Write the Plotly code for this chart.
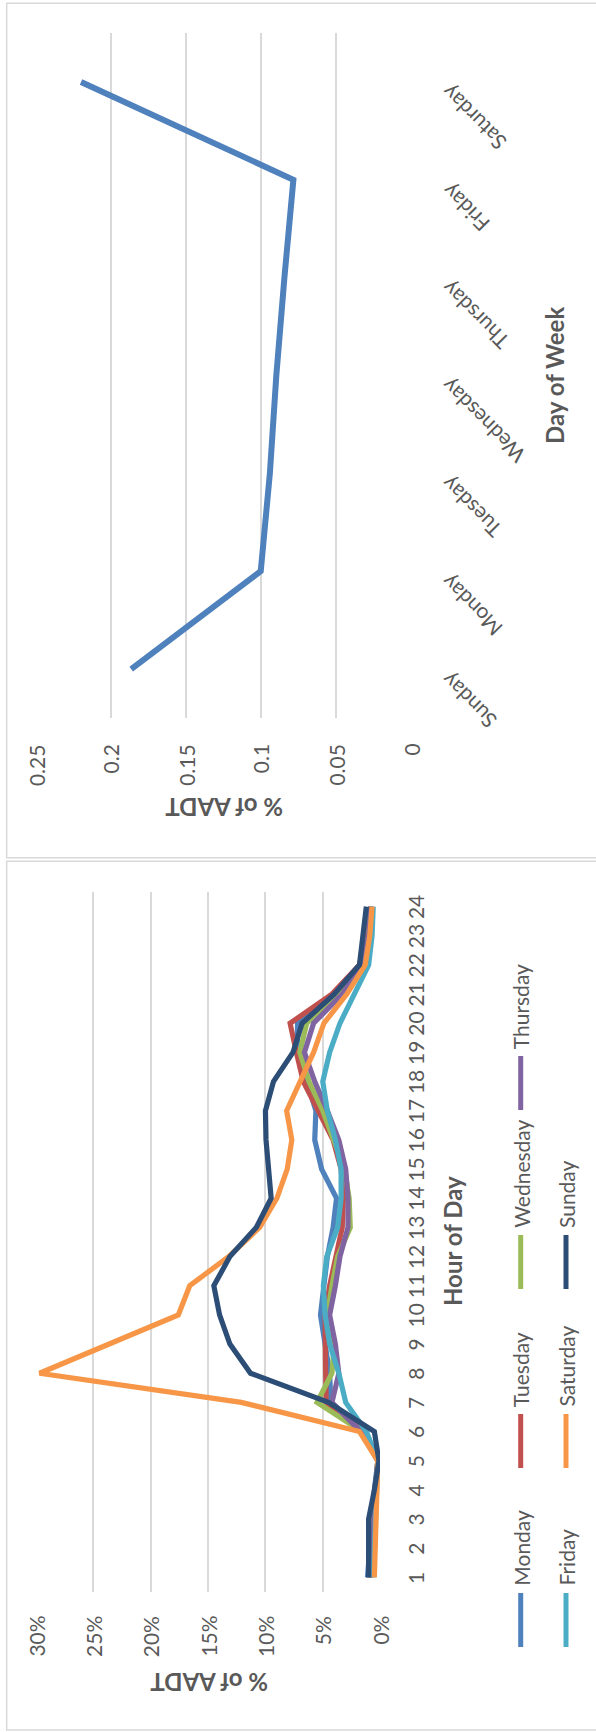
import plotly.graph_objects as go

# ---- data -------------------------------------------------------------
days = ["Sunday", "Monday", "Tuesday", "Wednesday", "Thursday", "Friday", "Saturday"]
day_share = [0.1865, 0.1000, 0.0939, 0.0896, 0.0842, 0.0782, 0.2200]
day_ticks = [0, 0.05, 0.10, 0.15, 0.20, 0.25]
day_ticktext = ["0", "0.05", "0.1", "0.15", "0.2", "0.25"]

hours = list(range(1, 25))
hour_ticks = [0, 5, 10, 15, 20, 25, 30]
hour_ticktext = ["0%", "5%", "10%", "15%", "20%", "25%", "30%"]

monday = [1.1, 0.9, 0.8, 0.5, 0.2, 1.5, 4.3, 4.4, 4.8, 5.2, 4.9, 4.6,
          4.1, 3.8, 5.1, 5.7, 5.6, 6.4, 7.2, 7.2, 4.1, 1.8, 1.0, 0.8]
tuesday = [0.9, 0.7, 0.6, 0.4, 0.2, 1.5, 4.7, 4.75, 4.8, 4.8, 4.4, 3.9,
           3.3, 3.2, 3.4, 4.1, 5.4, 6.7, 7.3, 7.85, 4.2, 1.8, 1.1, 0.8]
wednesday = [0.8, 0.7, 0.6, 0.4, 0.2, 1.6, 5.5, 4.2, 4.0, 4.6, 4.2, 3.7,
             2.6, 2.7, 3.1, 4.1, 5.0, 6.2, 7.0, 6.4, 3.7, 1.6, 1.0, 0.8]
thursday = [0.8, 0.7, 0.6, 0.4, 0.2, 1.7, 4.2, 3.6, 3.9, 4.4, 3.9, 3.5,
            2.8, 2.8, 3.0, 3.6, 4.6, 5.7, 6.6, 5.8, 3.3, 1.6, 1.0, 0.8]
friday = [0.6, 0.5, 0.5, 0.3, 0.2, 1.2, 3.0, 3.6, 4.4, 4.8, 4.95, 4.65,
          3.7, 3.4, 3.4, 3.9, 4.6, 5.0, 4.4, 3.5, 2.2, 1.0, 0.7, 0.6]
saturday = [0.5, 0.45, 0.4, 0.3, 0.2, 1.8, 12.1, 29.7, 23.7, 17.6, 16.6, 13.2,
            10.5, 9.0, 8.1, 7.7, 8.15, 7.0, 5.8, 4.9, 2.9, 1.3, 0.9, 0.7]
sunday = [1.0, 0.95, 1.0, 0.5, 0.1, 0.5, 4.5, 11.3, 13.1, 14.0, 14.5, 13.1,
          10.8, 9.5, 9.7, 9.95, 10.0, 9.3, 7.6, 6.8, 4.0, 1.8, 1.5, 1.2]

series_names = ["Monday", "Tuesday", "Wednesday", "Thursday", "Friday", "Saturday", "Sunday"]
series_values = [monday, tuesday, wednesday, thursday, friday, saturday, sunday]
series_colors = ["#4F81BD", "#C0504D", "#9BBB59", "#8064A2", "#4BACC6", "#F79646", "#2C4D75"]

# ---- page geometry (pixels) --------------------------------------------
W, H = 596, 1732
FONT = "Lato, 'Open Sans', sans-serif"
TXT = "#595959"
GRID = "#D9D9D9"


def fx(px):
    return px / W


def fy(py):
    return 1 - py / H


fig = go.Figure()

# Day-of-week share
fig.add_trace(go.Scatter(
    x=day_share, y=days, mode="lines", xaxis="x", yaxis="y",
    line=dict(color="#4F81BD", width=6), showlegend=False, hoverinfo="skip"))

# Hourly shares by day
for name, vals, col in zip(series_names, series_values, series_colors):
    fig.add_trace(go.Scatter(
        x=vals, y=hours, mode="lines", name=name, xaxis="x2", yaxis="y2",
        line=dict(color=col, width=5.2), showlegend=False, hoverinfo="skip"))

axis_common = dict(showline=False, zeroline=False, ticks="", showticklabels=False)

fig.update_layout(
    template="none",
    width=W, height=H, margin=dict(l=0, r=0, t=0, b=0),
    paper_bgcolor="white", plot_bgcolor="white",
    xaxis=dict(domain=[fx(36.1), fx(410.5)], range=[0.25, 0], anchor="y",
               tickvals=day_ticks, showgrid=True, gridcolor=GRID, gridwidth=1.5,
               **axis_common),
    yaxis=dict(domain=[fy(718), fy(33)], type="category", categoryarray=days,
               range=[-0.5, 6.5], anchor="x", showgrid=False, **axis_common),
    xaxis2=dict(domain=[fx(36.1), fx(380.1)], range=[30, 0], anchor="y2",
                tickvals=hour_ticks, showgrid=True, gridcolor=GRID, gridwidth=1.5,
                **axis_common),
    yaxis2=dict(domain=[fy(1592), fy(892)], range=[0.5, 24.5], anchor="x2",
                tickvals=hours, showgrid=False, **axis_common),
)

annotations = []
tick_font = dict(family=FONT, size=21, color=TXT)
title_font = dict(family=FONT, size=24, color=TXT)

# value labels of the day chart (read upward)
for v, t in zip(day_ticks, day_ticktext):
    annotations.append(dict(x=v, y=fy(742), xref="x", yref="paper", text=t,
                            textangle=-90, xanchor="center", yanchor="top",
                            showarrow=False, font=tick_font))

# day labels, slanted
for d in days:
    annotations.append(dict(
        x=fx(433), y=d, xref="paper", yref="y", text=d, textangle=-135,
        xanchor="left", yanchor="top", yshift=4, showarrow=False, font=tick_font))

# value labels of the hourly chart
for v, t in zip(hour_ticks, hour_ticktext):
    annotations.append(dict(x=v, y=fy(1614), xref="x2", yref="paper", text=t,
                            textangle=-90, xanchor="center", yanchor="top",
                            showarrow=False, font=tick_font))

# hour labels
for h in hours:
    annotations.append(dict(x=fx(401), y=h, xref="paper", yref="y2", text=str(h),
                            textangle=-90, xanchor="left", yanchor="middle",
                            showarrow=False, font=tick_font))

# axis titles
for text, px, py, ang in [
    ("<b>% of AADT</b>", 224, 808, 180),
    ("<b>Day of Week</b>", 554, 376, -90),
    ("<b>% of AADT</b>", 209, 1683, 180),
    ("<b>Hour of Day</b>", 452, 1241, -90),
]:
    annotations.append(dict(x=fx(px), y=fy(py), xref="paper", yref="paper", text=text,
                            textangle=ang, xanchor="center", yanchor="middle",
                            showarrow=False, font=title_font))

shapes = []
# panel borders
shapes.append(dict(type="rect", xref="paper", yref="paper",
                   x0=fx(6.7), x1=1.02, y0=fy(857.7), y1=fy(3.3),
                   line=dict(color=GRID, width=1.5)))
shapes.append(dict(type="rect", xref="paper", yref="paper",
                   x0=fx(6.7), x1=1.02, y0=fy(1730), y1=fy(861.3),
                   line=dict(color=GRID, width=1.5)))

# legend: two columns, entries stacked upward
legend_cols = [520.7, 566.0]
slot_base = 1647.0
slot_step = 179.0
for i, (name, col) in enumerate(zip(series_names, series_colors)):
    cx = legend_cols[0] if i < 4 else legend_cols[1]
    slot = i if i < 4 else i - 4
    y_bot = slot_base - slot * slot_step
    y_top = y_bot - 54
    shapes.append(dict(type="line", xref="paper", yref="paper",
                       x0=fx(cx), x1=fx(cx), y0=fy(y_bot), y1=fy(y_top),
                       line=dict(color=col, width=5)))
    annotations.append(dict(
        x=fx(cx), y=fy(y_top - 5), xref="paper", yref="paper", text=name,
        textangle=-90, xanchor="center", yanchor="bottom", showarrow=False,
        font=tick_font))

fig.update_layout(annotations=annotations, shapes=shapes)

fig.write_html("out.html")
